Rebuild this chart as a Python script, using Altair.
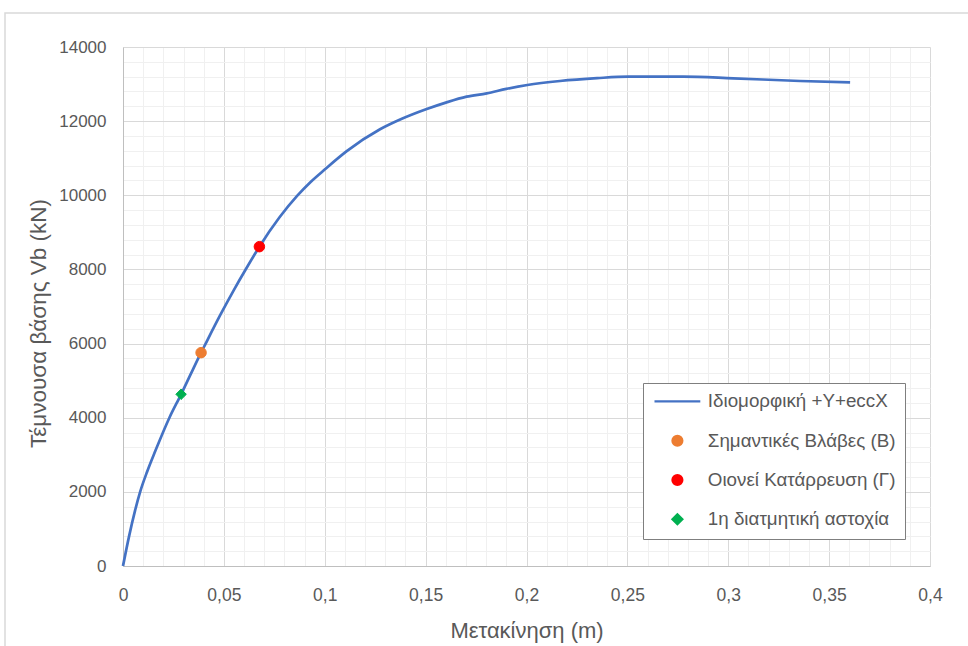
import altair as alt
import pandas as pd

# ---- data ----
series_name = "Ιδιομορφική +Y+eccX"
disp = [0, 0.003, 0.006, 0.0085, 0.012, 0.016, 0.023, 0.0288, 0.0335, 0.0387,
        0.0406, 0.0481, 0.055, 0.0613, 0.0676, 0.0775, 0.0864, 0.093, 0.1001,
        0.1109, 0.1274, 0.1385, 0.1502, 0.16, 0.1703, 0.1803, 0.19, 0.2004,
        0.2166, 0.235, 0.2505, 0.2777, 0.3025, 0.3356, 0.3604]
vb = [0, 800, 1500, 2000, 2550, 3100, 4000, 4632, 5170, 5755,
      5960, 6760, 7450, 8045, 8614, 9400, 9990, 10360, 10700,
      11190, 11780, 12070, 12320, 12500, 12660, 12750, 12870, 12975,
      13083, 13160, 13200, 13200, 13155, 13083, 13047]

event_labels = ["Σημαντικές Βλάβες (Β)", "Οιονεί Κατάρρευση (Γ)", "1η διατμητική αστοχία"]
event_disp = [0.0387, 0.0676, 0.0288]
event_vb = [5755, 8614, 4632]

legend_order = [series_name] + event_labels
legend_colors = ["#4472C4", "#ED7D31", "#FF0000", "#00B050"]
legend_shapes = ["M-4.7,0L4.7,0", "circle", "circle", "diamond"]

x_major = [0, 0.05, 0.1, 0.15, 0.2, 0.25, 0.3, 0.35, 0.4]
x_minor = [0, 0.01, 0.02, 0.03, 0.04, 0.05, 0.06, 0.07, 0.08, 0.09, 0.1,
           0.11, 0.12, 0.13, 0.14, 0.15, 0.16, 0.17, 0.18, 0.19, 0.2,
           0.21, 0.22, 0.23, 0.24, 0.25, 0.26, 0.27, 0.28, 0.29, 0.3,
           0.31, 0.32, 0.33, 0.34, 0.35, 0.36, 0.37, 0.38, 0.39, 0.4]
y_major = [0, 2000, 4000, 6000, 8000, 10000, 12000, 14000]
y_minor = [0, 400, 800, 1200, 1600, 2000, 2400, 2800, 3200, 3600, 4000,
           4400, 4800, 5200, 5600, 6000, 6400, 6800, 7200, 7600, 8000,
           8400, 8800, 9200, 9600, 10000, 10400, 10800, 11200, 11600, 12000,
           12400, 12800, 13200, 13600, 14000]

curve = pd.DataFrame({"d": disp, "v": vb, "s": [series_name] * len(disp)})
events = pd.DataFrame({"d": event_disp, "v": event_vb, "s": event_labels})

FONT = "Liberation Sans"
TXT = "#595959"

xscale = alt.Scale(domain=[0, 0.4], nice=False)
yscale = alt.Scale(domain=[0, 14000], nice=False)

# minor grid
minor = alt.Chart(curve).mark_line(opacity=0).encode(
    x=alt.X("d:Q", scale=xscale, axis=alt.Axis(
        orient="bottom", values=x_minor, grid=True, gridColor="#f0f0f0",
        labels=False, ticks=False, domain=False, title=None)),
    y=alt.Y("v:Q", scale=yscale, axis=alt.Axis(
        orient="left", values=y_minor, grid=True, gridColor="#f0f0f0",
        labels=False, ticks=False, domain=False, title=None)),
)

line = alt.Chart(curve).mark_line(color="#4472C4", strokeWidth=2.7,
                                  interpolate="monotone").encode(
    x=alt.X("d:Q", scale=xscale, axis=alt.Axis(
        orient="bottom", values=x_major, grid=True, gridColor="#d9d9d9",
        labelExpr="replace(format(datum.value, '.2~f'), '.', ',')",
        labelFont=FONT, labelFontSize=17.5, labelColor=TXT, labelPadding=20,
        labelFlush=False, ticks=False, domainColor="#bfbfbf",
        title="Μετακίνηση (m)", titleFont=FONT, titleFontSize=22,
        titleFontWeight="normal", titleColor=TXT, titleBaseline="middle",
        titleY=64)),
    y=alt.Y("v:Q", scale=yscale, axis=alt.Axis(
        orient="left", values=y_major, grid=True, gridColor="#d9d9d9",
        format="d", labelFont=FONT, labelFontSize=17, labelColor=TXT,
        labelPadding=17, labelFlush=False, ticks=False, domainColor="#bfbfbf",
        title="Τέμνουσα βάσης Vb (kN)", titleFont=FONT, titleFontSize=22.5,
        titleFontWeight="normal", titleColor=TXT, titleBaseline="middle",
        titleX=-85, titleY=276)),
)

leg = dict(title=None, orient="none", legendX=520, legendY=336,
           strokeColor="#7f7f7f", fillColor="white", padding=9,
           rowPadding=18.3, labelFontSize=18.8, labelColor=TXT, labelFont=FONT,
           labelLimit=400, symbolSize=95, symbolOffset=16, labelOffset=21,
           symbolStrokeWidth=2.4)

points = alt.Chart(events).mark_point(filled=True, opacity=1, strokeWidth=1).encode(
    x=alt.X("d:Q", scale=xscale, axis=None),
    y=alt.Y("v:Q", scale=yscale, axis=None),
    fill=alt.Fill("s:N", scale=alt.Scale(domain=legend_order, range=legend_colors),
                  legend=alt.Legend(**leg)),
    stroke=alt.Stroke("s:N", scale=alt.Scale(domain=legend_order, range=legend_colors),
                      legend=alt.Legend(**leg)),
    shape=alt.Shape("s:N", scale=alt.Scale(domain=legend_order, range=legend_shapes),
                    legend=alt.Legend(**leg)),
    size=alt.Size("s:N", scale=alt.Scale(domain=event_labels, range=[110, 110, 160]),
                  legend=None),
)

frame = alt.Chart(pd.DataFrame({"a": [0]})).mark_rect(
    fill=None, stroke="#d9d9d9", strokeWidth=1.5).encode(
    x=alt.value(-118), x2=alt.value(900), y=alt.value(-34), y2=alt.value(700))

chart = alt.layer(frame, minor, line, points).resolve_axis(
    x="independent", y="independent"
).properties(
    width=807, height=519, background="white",
    autosize=alt.AutoSizeParams(type="none"),
    padding={"left": 123, "top": 47, "right": 38, "bottom": 80},
).configure_view(stroke=None)

chart.save("out.html", embed_options={"renderer": "svg", "actions": False})
